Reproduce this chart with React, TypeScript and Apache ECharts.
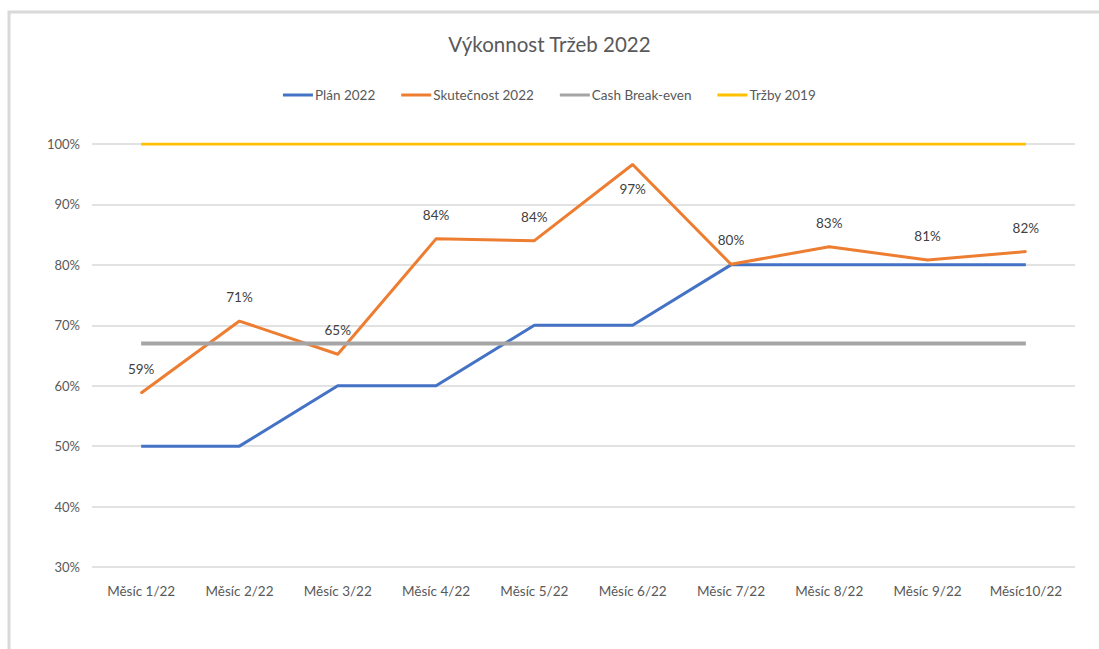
import React, { useEffect, useRef } from "react";
import * as echarts from "echarts";

const categories = ["Měsíc 1/22", "Měsíc 2/22", "Měsíc 3/22", "Měsíc 4/22", "Měsíc 5/22", "Měsíc 6/22", "Měsíc 7/22", "Měsíc 8/22", "Měsíc 9/22", "Měsíc10/22"];
const plan2022 = [50, 50, 60, 60, 70, 70, 80, 80, 80, 80];
const skutecnost2022 = [58.8, 70.7, 65.2, 84.3, 84.0, 96.6, 80.1, 83.0, 80.8, 82.2];
const cashBreakEven = [67, 67, 67, 67, 67, 67, 67, 67, 67, 67];
const trzby2019 = [100, 100, 100, 100, 100, 100, 100, 100, 100, 100];
const labelBelowIndex = [5];

const FONT = "Lato, 'Open Sans', sans-serif";
const TXT = "#595959";

export default function App() {
  const ref = useRef<HTMLDivElement>(null);
  useEffect(() => {
    if (!ref.current) return;
    const chart = echarts.init(ref.current, null, { renderer: "svg" });
    chart.setOption({
      animation: false,
      backgroundColor: "#ffffff",
      textStyle: { fontFamily: FONT },
      title: {
        text: "Výkonnost Tržeb 2022",
        left: "center",
        top: 28,
        textStyle: { fontFamily: FONT, fontSize: 20.5, fontWeight: "normal", color: TXT },
      },
      legend: {
        top: 83,
        left: "center",
        itemWidth: 30,
        itemHeight: 3,
        itemGap: 26,
        icon: "rect",
        textStyle: { fontFamily: FONT, fontSize: 13.5, color: TXT, padding: [0, 0, 0, -3] },
        data: ["Plán 2022", "Skutečnost 2022", "Cash Break-even", "Tržby 2019"],
      },
      graphic: [
        {
          type: "rect",
          shape: { x: 9, y: 12, width: 1200, height: 800 },
          style: { fill: "none", stroke: "#d9d9d9", lineWidth: 3 },
          silent: true,
        },
      ],
      grid: { left: 92, right: 24, top: 144, bottom: 82, containLabel: false },
      xAxis: {
        type: "category",
        data: categories,
        boundaryGap: true,
        axisLine: { show: false },
        axisTick: { show: false },
        axisLabel: { color: TXT, fontSize: 13.5, fontFamily: FONT, margin: 17 },
      },
      yAxis: {
        type: "value",
        min: 30,
        max: 100,
        interval: 10,
        axisLine: { show: false },
        axisTick: { show: false },
        axisLabel: { color: TXT, fontSize: 13, fontFamily: FONT, margin: 12, formatter: "{value}%" },
        splitLine: { lineStyle: { color: "#d9d9d9", width: 1.5 } },
      },
      series: [
        {
          name: "Plán 2022",
          type: "line",
          data: plan2022,
          symbol: "none",
          lineStyle: { color: "#4472C4", width: 3 },
          itemStyle: { color: "#4472C4" },
        },
        {
          name: "Skutečnost 2022",
          type: "line",
          data: skutecnost2022.map((v, i) =>
            labelBelowIndex.includes(i) ? { value: v, label: { position: "bottom", distance: 16 } } : v
          ),
          symbol: "circle",
          symbolSize: 2,
          showSymbol: true,
          lineStyle: { color: "#ED7D31", width: 3 },
          itemStyle: { color: "#ED7D31" },
          label: {
            show: true,
            position: "top",
            distance: 16,
            color: "#404040",
            fontSize: 13.5,
            fontFamily: FONT,
            formatter: (p: any) => Math.round(p.value) + "%",
          },
        },
        {
          name: "Cash Break-even",
          type: "line",
          data: cashBreakEven,
          symbol: "none",
          lineStyle: { color: "#A5A5A5", width: 4 },
          itemStyle: { color: "#A5A5A5" },
        },
        {
          name: "Tržby 2019",
          type: "line",
          data: trzby2019,
          symbol: "none",
          lineStyle: { color: "#FFC000", width: 3 },
          itemStyle: { color: "#FFC000" },
        },
      ],
    });
    return () => chart.dispose();
  }, []);
  return <div ref={ref} style={{ position: "absolute", left: 0, top: 0, width: 1099, height: 649 }} />;
}
